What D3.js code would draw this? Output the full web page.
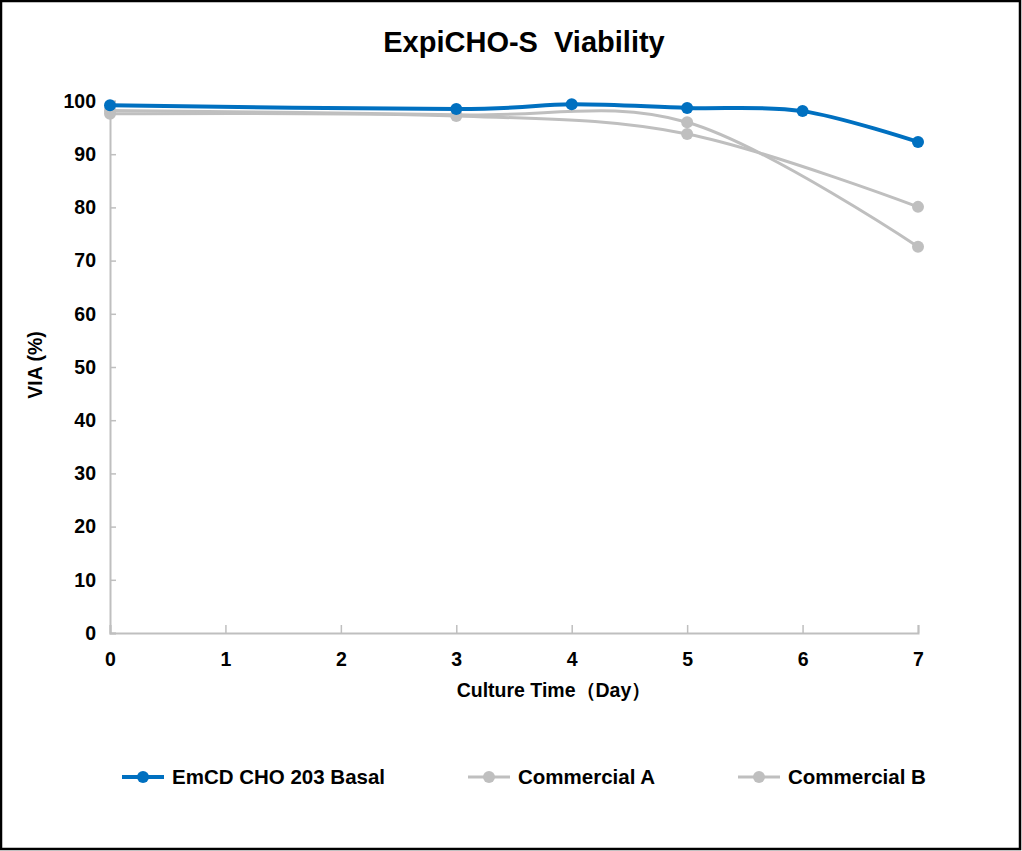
<!DOCTYPE html>
<html><head><meta charset="utf-8">
<script src="https://cdn.jsdelivr.net/npm/d3@7"></script>
<style>body{margin:0;background:#fff}svg{display:block}text{font-family:"Liberation Sans",Arial,sans-serif;font-weight:bold;fill:#000}</style>
</head><body>
<script>
const days = [0, 3, 4, 5, 6, 7];
const emcd = [99.2, 98.5, 99.4, 98.7, 98.1, 92.3];
const daysAB = [0, 3, 5, 7];
const commercialA = [98.2, 97.4, 96.0, 72.6];
const commercialB = [97.6, 97.2, 93.8, 80.1];
const xTicks = [0, 1, 2, 3, 4, 5, 6, 7];
const yTicks = [0, 10, 20, 30, 40, 50, 60, 70, 80, 90, 100];
const seriesNames = ["EmCD CHO 203 Basal", "Commercial A", "Commercial B"];
const seriesColors = ["#0070C0", "#BFBFBF", "#BFBFBF"];

const W = 1022, H = 851;
const svg = d3.select("body").append("svg").attr("width", W).attr("height", H);
svg.append("rect").attr("x", 1).attr("y", 1).attr("width", W - 3).attr("height", H - 3)
  .attr("fill", "#fff").attr("stroke", "#000").attr("stroke-width", 2.5);

const x = d3.scaleLinear().domain([0, 7]).range([110, 918]);
const y = d3.scaleLinear().domain([0, 100]).range([633, 101]);

svg.append("text").attr("x", 524).attr("y", 52).attr("text-anchor", "middle")
  .style("font-size", "29px").style("white-space", "pre").text("ExpiCHO-S\u00a0\u00a0Viability");

// axes
const gx = svg.append("g").attr("transform", "translate(0,633)")
  .call(d3.axisBottom(x).tickValues(xTicks).tickSize(-8).tickPadding(19).tickFormat(d3.format("d")));
const gy = svg.append("g").attr("transform", "translate(110,0)")
  .call(d3.axisLeft(y).tickValues(yTicks).tickSize(-6).tickPadding(14));
[gx, gy].forEach(g => {
  g.select(".domain").attr("stroke", "#BFBFBF").attr("stroke-width", 2);
  g.selectAll(".tick line").attr("stroke", "#BFBFBF").attr("stroke-width", 1.5);
  g.selectAll(".tick text").style("font-size", "19.5px").style("font-family", '"Liberation Sans",Arial,sans-serif').style("font-weight", "bold").attr("fill", "#000");
});

svg.append("text").attr("x", 554).attr("y", 697).attr("text-anchor", "middle")
  .style("font-size", "19.5px").text("Culture Time（Day）");
svg.append("text").attr("transform", "translate(42,365) rotate(-90)").attr("text-anchor", "middle")
  .style("font-size", "19.5px").text("VIA (%)");

const line = d3.line().x(d => x(d[0])).y(d => y(d[1])).curve(d3.curveCatmullRom.alpha(0));
const series = [
  {xs: daysAB, ys: commercialB, c: seriesColors[2], w: 3},
  {xs: daysAB, ys: commercialA, c: seriesColors[1], w: 3},
  {xs: days, ys: emcd, c: seriesColors[0], w: 4}
];
series.forEach(s => {
  const pts = s.xs.map((d, i) => [d, s.ys[i]]);
  svg.append("path").datum(pts).attr("d", line).attr("fill", "none")
    .attr("stroke", s.c).attr("stroke-width", s.w);
  svg.selectAll(null).data(pts).enter().append("circle")
    .attr("cx", d => x(d[0])).attr("cy", d => y(d[1])).attr("r", 6).attr("fill", s.c);
});

// legend
const legX = [122, 468, 738];
seriesNames.forEach((n, i) => {
  const g = svg.append("g").attr("transform", `translate(${legX[i]},777)`);
  g.append("line").attr("x1", 0).attr("x2", 42).attr("stroke", seriesColors[i]).attr("stroke-width", i === 0 ? 4 : 3);
  g.append("circle").attr("cx", 21).attr("r", 6).attr("fill", seriesColors[i]);
  g.append("text").attr("x", 50).attr("y", 7).style("font-size", "20.5px").text(n);
});
</script>
</body></html>
